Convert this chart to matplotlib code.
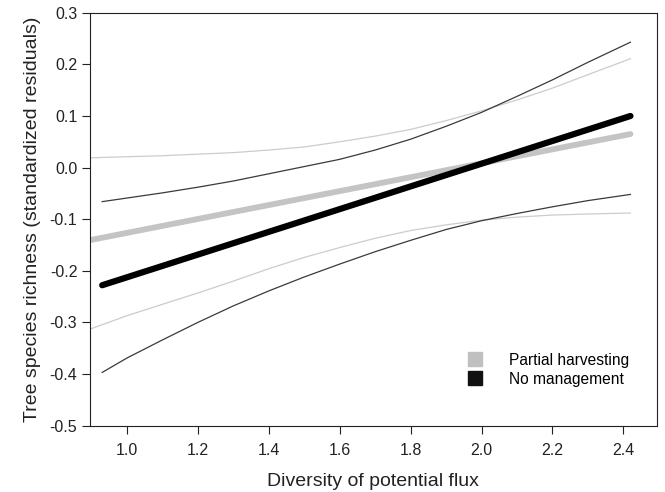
import matplotlib
matplotlib.use("Agg")
import matplotlib.pyplot as plt
from matplotlib.lines import Line2D

plt.rcParams["font.family"] = ["Liberation Sans", "DejaVu Sans"]

# fitted lines (start / end)
fit_x_partial = [0.9, 2.42]
fit_y_partial = [-0.140, 0.065]
fit_x_none = [0.93, 2.42]
fit_y_none = [-0.228, 0.100]

# confidence bands
band_x_partial = [0.9, 1.0, 1.1, 1.2, 1.3, 1.4, 1.5, 1.6, 1.7, 1.8, 1.9, 2.0, 2.1, 2.2, 2.3, 2.42]
upper_partial = [0.019, 0.021, 0.023, 0.026, 0.029, 0.034, 0.040, 0.050, 0.061, 0.074,
                 0.091, 0.110, 0.131, 0.154, 0.180, 0.211]
lower_partial = [-0.312, -0.287, -0.265, -0.243, -0.220, -0.196, -0.174, -0.155, -0.137, -0.122,
                 -0.111, -0.102, -0.096, -0.092, -0.090, -0.088]

band_x_none = [0.93, 1.0, 1.1, 1.2, 1.3, 1.4, 1.5, 1.6, 1.7, 1.8, 1.9, 2.0, 2.1, 2.2, 2.3, 2.42]
upper_none = [-0.066, -0.059, -0.049, -0.038, -0.026, -0.012, 0.002, 0.016, 0.034, 0.055,
              0.080, 0.107, 0.138, 0.170, 0.204, 0.243]
lower_none = [-0.397, -0.369, -0.334, -0.300, -0.268, -0.239, -0.212, -0.187, -0.163, -0.141,
              -0.120, -0.103, -0.089, -0.076, -0.064, -0.052]

xticks = [1.0, 1.2, 1.4, 1.6, 1.8, 2.0, 2.2, 2.4]
yticks = [-0.5, -0.4, -0.3, -0.2, -0.1, 0.0, 0.1, 0.2, 0.3]

fig = plt.figure(figsize=(6.65, 4.92), dpi=100)
ax = fig.add_axes([0.135, 0.135, 0.853, 0.839])

light = "#c4c4c4"
dark = "#3a3a3a"

ax.plot(band_x_partial, upper_partial, color="#cccccc", lw=0.9)
ax.plot(band_x_partial, lower_partial, color="#cccccc", lw=0.9)
ax.plot(band_x_none, upper_none, color=dark, lw=0.9)
ax.plot(band_x_none, lower_none, color=dark, lw=0.9)

ax.plot(fit_x_partial, fit_y_partial, color=light, lw=4.2, solid_capstyle="round")
ax.plot(fit_x_none, fit_y_none, color="black", lw=4.5, solid_capstyle="round")

ax.set_xlim(0.895, 2.495)
ax.set_ylim(-0.5, 0.3)
ax.set_xticks(xticks)
ax.set_xticklabels([f"{v:.1f}" for v in xticks])
ax.set_yticks(yticks)
ax.set_yticklabels([f"{v:.1f}" for v in yticks])
ax.tick_params(direction="out", length=5.5, width=0.8, labelsize=11.5, colors="#222222")
ax.tick_params(axis="x", pad=7)
for s in ax.spines.values():
    s.set_linewidth(0.8)
    s.set_color("#222222")

ax.set_xlabel("Diversity of potential flux", fontsize=14, color="#222222", labelpad=11)
ax.set_ylabel("Tree species richness (standardized residuals)", fontsize=14, color="#222222", labelpad=6)

handles = [
    Line2D([], [], ls="none", marker="s", markersize=9.5, color="#c0c0c0"),
    Line2D([], [], ls="none", marker="s", markersize=9.5, color="#111111"),
]
ax.legend(handles, ["Partial harvesting", "No management"], loc="upper left",
          bbox_to_anchor=(0.652, 0.195), frameon=False, fontsize=11.2,
          handletextpad=1.7, labelspacing=0.25, borderpad=0, handlelength=1.0)

fig.savefig("out.png", dpi=100)
